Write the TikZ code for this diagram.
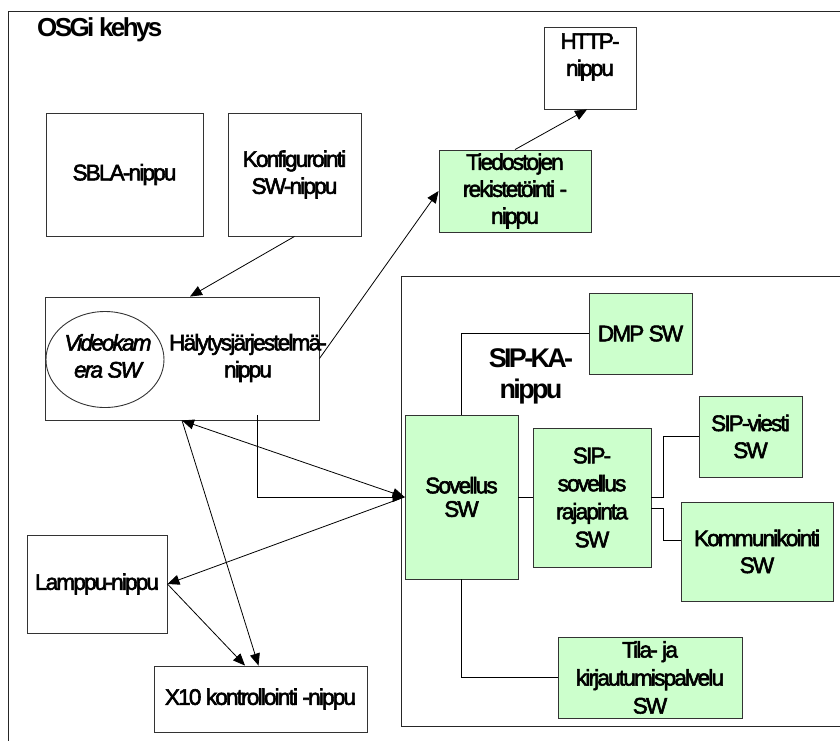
\documentclass[tikz,border=0pt]{standalone}
\usepackage{fontspec}
\setmainfont[LetterSpace=-8,FakeBold=2.5]{Liberation Sans}
\newfontfamily\headfont[LetterSpace=-10]{Liberation Sans}
\usetikzlibrary{arrows.meta,shapes.geometric,calc}

\definecolor{swgreen}{HTML}{CCFFCC}
\definecolor{edge}{HTML}{333333}
\newcommand\bodyfont{\fontsize{22.5}{27}\selectfont}

\tikzset{
  x=1pt, y=-1pt,
  box/.style={draw=edge, line width=0.9pt, fill=white, inner sep=0pt,
              align=center, font=\bodyfont},
  swbox/.style={box, fill=swgreen},
  lbl/.style={inner sep=0pt, align=center, font=\bodyfont},
  frameline/.style={draw=black!85, line width=0.9pt},
  link/.style={draw=black, line width=0.8pt},
  arr/.style={link, -{Triangle[length=12pt,width=10pt]}},
  dblarr/.style={link, {Triangle[length=12pt,width=10pt]}-{Triangle[length=12pt,width=10pt]}},
}

\begin{document}
\begin{tikzpicture}
\useasboundingbox (0,0) rectangle (840,740);

% OSGi framework frame (open to the right and below)
\coordinate (osgiR) at (841,11);
\coordinate (osgiC) at (8,11);
\coordinate (osgiB) at (8,741);
\draw[frameline] (osgiR) -- (osgiC) -- (osgiB);
\node[anchor=base west, inner sep=0pt, font=\headfont\bfseries\fontsize{26}{30}\selectfont]
  (title) at (37,36.5) {OSGi kehys};

% SIP-KA bundle frame
\coordinate (sipTR) at (841,276);
\coordinate (sipTL) at (401,276);
\coordinate (sipBL) at (401,726);
\coordinate (sipBR) at (841,726);
\draw[frameline] (sipTR) -- (sipTL) -- (sipBL) -- (sipBR);
\node[inner sep=0pt, align=center, font=\headfont\bfseries\fontsize{27}{31}\selectfont]
  (sipka) at (531,376) {SIP-KA-\\nippu};

% plain bundles
\node[box, minimum width=157pt, minimum height=123pt] (sbla) at (124.5,174.5) {SBLA-nippu};
\node[box, minimum width=133pt, minimum height=123pt] (konf) at (294.5,174.5) {Konfigurointi\\SW-nippu};
\node[box, minimum width=92pt, minimum height=82pt] (http) at (590,68) {};
\node[lbl] (httptxt) at (590,57) {HTTP-\\nippu};

\node[box, minimum width=274pt, minimum height=123pt] (halyt) at (182,358.5) {};
\node[draw=edge, line width=0.9pt, ellipse, inner sep=0pt,
      minimum width=118pt, minimum height=96pt] (video) at (105,359.5) {};
\node[lbl, font=\bodyfont\itshape] (videotxt) at (108,356) {Videokam\\era SW};
\node[lbl] (halyttxt) at (248,358) {Hälytysjärjestelmä-\\nippu};

\node[box, minimum width=140pt, minimum height=98pt] (lamp) at (97,584) {Lamppu-nippu};
\node[box, minimum width=213pt, minimum height=66pt] (x10) at (260.5,699) {X10 kontrollointi -nippu};

% green software components
\node[swbox, minimum width=152pt, minimum height=82pt] (tied) at (515,191) {Tiedostojen\\rekistetöinti -\\nippu};
\node[swbox, minimum width=103pt, minimum height=81pt] (dmp) at (640.5,333.5) {DMP SW};
\node[swbox, minimum width=113pt, minimum height=164pt, font=\fontsize{22.5}{23.5}\selectfont]
  (sov) at (461.5,497) {Sovellus\\SW};
\node[swbox, minimum width=118pt, minimum height=139pt, font=\fontsize{22.5}{28}\selectfont]
  (sipapi) at (592,497.5) {SIP-\\sovellus\\rajapinta\\SW};
\node[swbox, minimum width=103pt, minimum height=81pt] (viesti) at (750.5,436.5) {SIP-viesti\\SW};
\node[swbox, minimum width=152pt, minimum height=99pt] (komm) at (757,551.5) {Kommunikointi\\SW};
\node[swbox, minimum width=184pt, minimum height=81pt, font=\fontsize{22.5}{28}\selectfont]
  (tila) at (650,677.5) {Tila- ja\\kirjautumispalvelu\\SW};

% arrows between bundles
\draw[arr] (konf.south) -- ($(halyt.north)+(8,0)$);
\draw[arr] (halyt.east) -- (tied.west);
\draw[arr] (tied.north) -- ($(http.south)+(-3,0)$);
\draw[arr] ($(halyt.south)+(75.5,-5)$) |- (sov.west);
\draw[dblarr] (halyt.south) -- (sov.west);
\draw[arr] (sov.west) -- (lamp.east);
\draw[arr] (halyt.south) -- ($(x10.north)+(-2,0)$);
\draw[arr] (lamp.east) -- ($(x10.north)+(-15.5,0)$);

% links inside the SIP-KA bundle
\draw[link] (dmp.west) -| (sov.north);
\draw[link] (sov.east) -- ++(7,0) |- (sipapi.west);
\draw[link] (sipapi.east) -- ++(12,0) |- (viesti.west);
\draw[link] ($(sipapi.east)+(0,10.5)$) -- ++(12,0) |- ($(komm.west)+(0,-11)$);
\draw[link] (sov.south) |- (tila.west);
\end{tikzpicture}
\end{document}
